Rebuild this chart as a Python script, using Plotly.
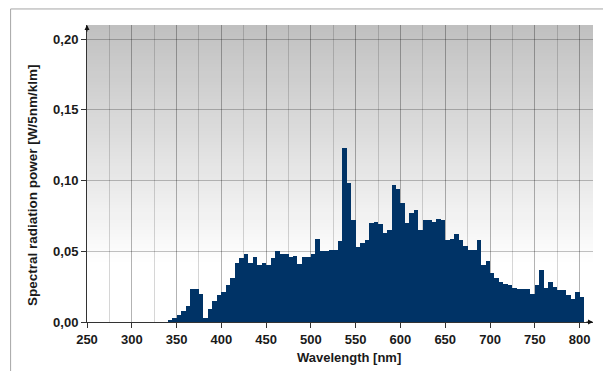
import plotly.graph_objects as go

# Spectral distribution in 5 nm bins (bin start wavelength, nm)
wavelength = list(range(340, 805, 5))
power = [
    0.001, 0.0025, 0.005, 0.008, 0.011, 0.023, 0.023, 0.020, 0.003, 0.009,   # 340-385
    0.015, 0.019, 0.021, 0.026, 0.031, 0.042, 0.045, 0.048, 0.042, 0.046,   # 390-435
    0.040, 0.042, 0.040, 0.045, 0.050, 0.048, 0.048, 0.046, 0.047, 0.041,   # 440-485
    0.046, 0.046, 0.048, 0.059, 0.050, 0.050, 0.051, 0.051, 0.057, 0.123,   # 490-535
    0.098, 0.072, 0.053, 0.056, 0.058, 0.070, 0.071, 0.069, 0.063, 0.065,   # 540-585
    0.097, 0.094, 0.084, 0.070, 0.077, 0.079, 0.065, 0.072, 0.072, 0.071,   # 590-635
    0.073, 0.072, 0.058, 0.059, 0.062, 0.058, 0.054, 0.051, 0.051, 0.058,   # 640-685
    0.040, 0.043, 0.035, 0.031, 0.028, 0.027, 0.026, 0.024, 0.0235, 0.023,  # 690-735
    0.023, 0.020, 0.026, 0.0365, 0.024, 0.028, 0.025, 0.0225, 0.0225, 0.019,  # 740-785
    0.016, 0.0215, 0.018,                                                    # 790-800
]

x_ticks = list(range(250, 850, 50))
y_ticks = [0.00, 0.05, 0.10, 0.15, 0.20]

X_RANGE = [250, 815]
Y_RANGE = [0, 0.21]

BAR_COLOR = "#003366"
TEXT_COLOR = "#1a1a1a"
AXIS_COLOR = "#333333"
FONT = "Liberation Sans, Arial, sans-serif"
FONT_SIZE = 13

fig = go.Figure()
fig.add_trace(go.Bar(
    x=wavelength,
    y=power,
    width=5,
    offset=0,
    marker=dict(color=BAR_COLOR, line=dict(width=0)),
    hoverinfo="skip",
))

# Grey-to-white vertical gradient behind the grid: overlapping bands,
# each reaching the top so no seams show between them
shapes = []
grad_bottom, grad_top = 0.04, Y_RANGE[1]
n_strips = 68
for i in range(n_strips):
    y0 = grad_bottom + (grad_top - grad_bottom) * i / n_strips
    t = (i + 0.5) / n_strips
    g = round(255 - (255 - 192) * t)
    shapes.append(dict(
        type="rect", xref="paper", yref="y", x0=0, x1=1, y0=y0, y1=grad_top,
        fillcolor=f"rgb({g},{g},{g})", line=dict(width=0), layer="below",
    ))

# Thin frame along the top and left of the figure
shapes.append(dict(
    type="path", xref="paper", yref="paper",
    path="M -0.151,-0.2 L -0.151,1.054 L 1.05,1.054",
    line=dict(color="#a6a6a6", width=1),
))

fig.update_layout(
    width=603,
    height=371,
    margin=dict(l=87, r=10, t=25, b=49),
    paper_bgcolor="white",
    plot_bgcolor="white",
    bargap=0,
    showlegend=False,
    separators=",.",
    font=dict(family=FONT, size=FONT_SIZE, color=TEXT_COLOR),
    shapes=shapes,
    xaxis=dict(
        range=X_RANGE,
        tickvals=x_ticks,
        showgrid=True,
        gridcolor="rgba(0,0,0,0.16)",
        gridwidth=1,
        minor=dict(dtick=25, tick0=250, showgrid=True,
                   gridcolor="rgba(0,0,0,0.16)", gridwidth=1, ticks=""),
        showline=True,
        linecolor=AXIS_COLOR,
        linewidth=1,
        ticks="outside",
        ticklen=5,
        tickcolor=AXIS_COLOR,
        tickfont=dict(family=FONT, size=FONT_SIZE, color=TEXT_COLOR, weight="bold"),
        zeroline=False,
        fixedrange=True,
    ),
    yaxis=dict(
        range=Y_RANGE,
        tickvals=y_ticks,
        tickformat=".2f",
        showgrid=True,
        gridcolor="rgba(0,0,0,0.24)",
        gridwidth=1,
        showline=True,
        linecolor=AXIS_COLOR,
        linewidth=1,
        ticks="outside",
        ticklen=5,
        tickcolor=AXIS_COLOR,
        tickfont=dict(family=FONT, size=FONT_SIZE, color=TEXT_COLOR, weight="bold"),
        zeroline=False,
        fixedrange=True,
    ),
    annotations=[
        # axis titles
        dict(text="<b>Wavelength [nm]</b>", xref="paper", yref="paper",
             x=0.518, y=-0.118, xanchor="center", yanchor="middle",
             showarrow=False, font=dict(family=FONT, size=13, color=TEXT_COLOR)),
        dict(text="<b>Spectral radiation power [W/5nm/klm]</b>", xref="paper", yref="paper",
             x=-0.109, y=0.461, xanchor="center", yanchor="middle", textangle=-90,
             showarrow=False, font=dict(family=FONT, size=13.5, color=TEXT_COLOR)),
        # arrow heads at the ends of both axes
        dict(x=X_RANGE[0], y=1, xref="x", yref="paper", text="", showarrow=True,
             ax=0, ay=8, arrowhead=2, arrowsize=1, arrowwidth=1, arrowcolor="#111111"),
        dict(x=1, y=0, xref="paper", yref="y", text="", showarrow=True,
             ax=-8, ay=0, arrowhead=2, arrowsize=1, arrowwidth=1, arrowcolor="#111111"),
    ],
)

fig.write_html("out.html", config={"displayModeBar": False})
